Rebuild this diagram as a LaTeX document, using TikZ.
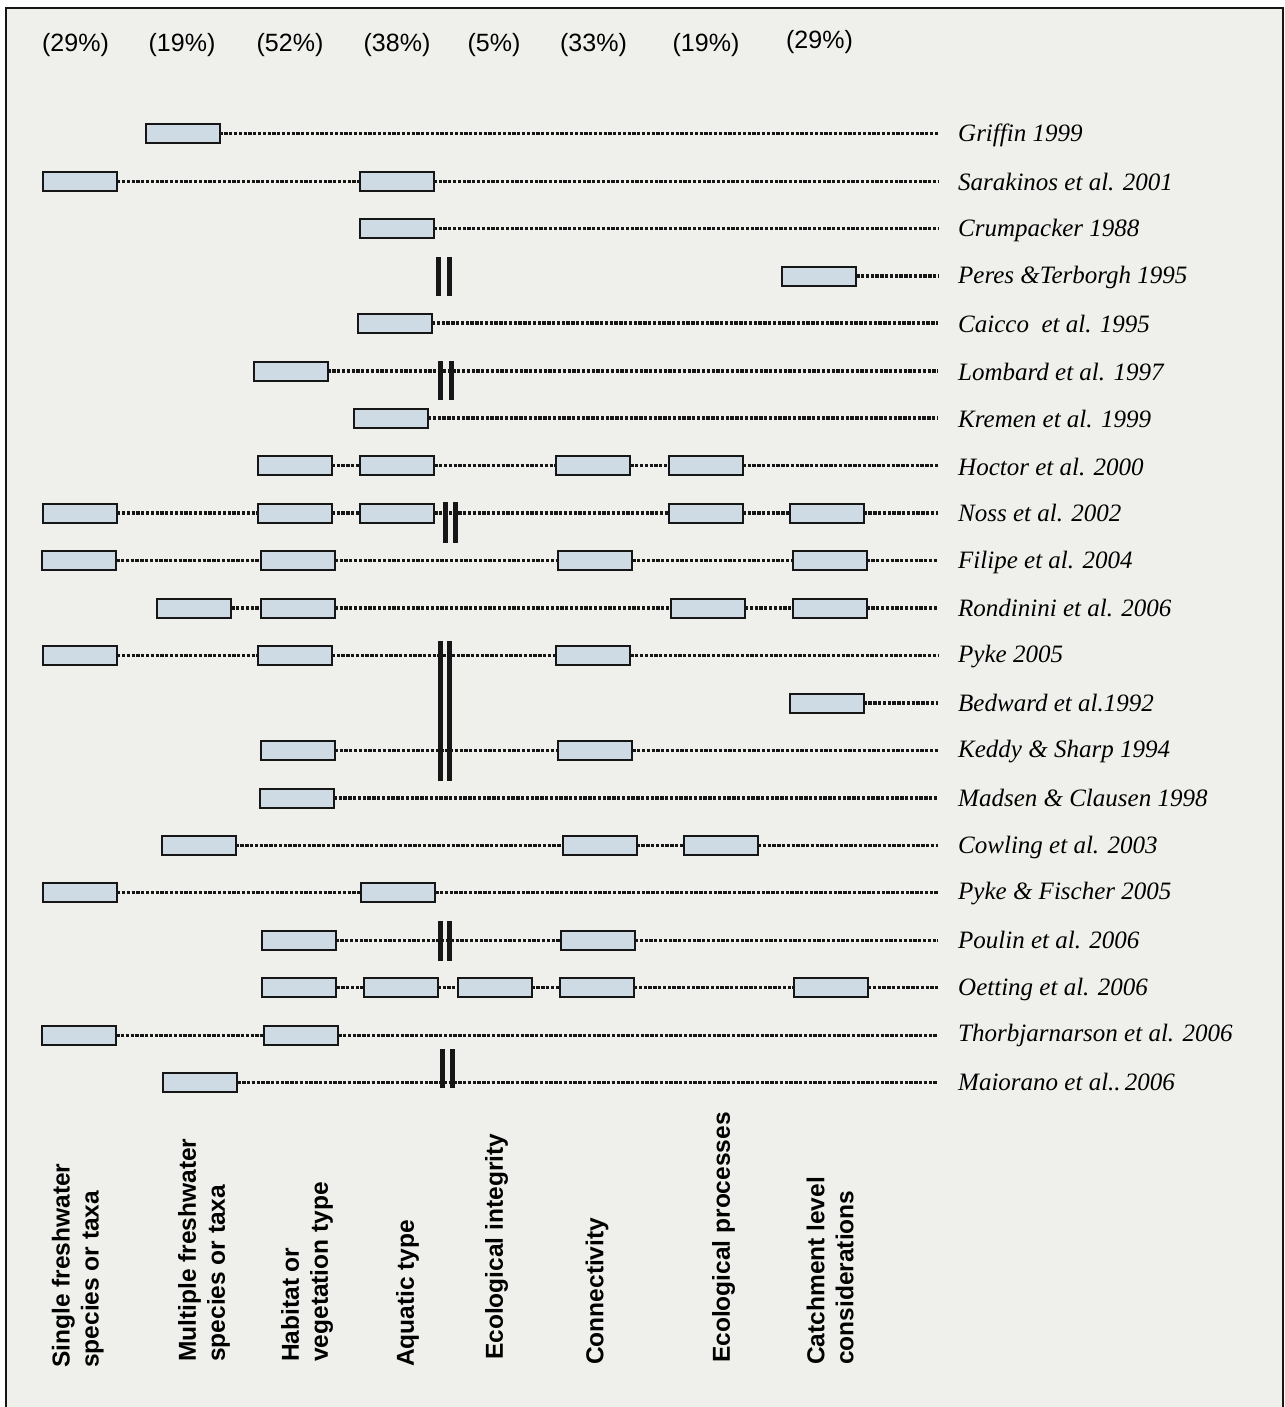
\documentclass[tikz,border=0pt]{standalone}
\usepackage{fontspec}
\newfontfamily\serifit{Liberation Serif}
\newfontfamily\sansf{Liberation Sans}
\definecolor{bg}{RGB}{239,239,235}
\definecolor{boxfill}{RGB}{207,219,228}
\definecolor{ink}{RGB}{22,22,22}
\begin{document}
\begin{tikzpicture}[x=1pt,y=-1pt,
  bx/.style={draw=ink,line width=2pt,fill=boxfill,minimum width=74pt,minimum height=19pt,inner sep=0pt,outer sep=0pt},
  dl/.style={draw=ink,line width=3.1pt,dash pattern=on 3.3pt off 1.5pt},
  barfill/.style={fill=ink},
  pct/.style={font=\sansf\fontsize{25}{30}\selectfont,inner sep=0pt},
  lab/.style={font=\serifit\itshape\fontsize{25}{30}\selectfont,anchor=base west,inner sep=0pt},
  cat/.style={font=\sansf\bfseries\fontsize{24.5}{29}\selectfont,rotate=90,anchor=north west,align=left,inner sep=0pt}]
\useasboundingbox (0,0) rectangle (1284,1407);
\clip (0,0) rectangle (1284,1407);
\fill[white] (0,0) rectangle (1284,1407);
\draw[draw=ink,line width=2.5pt,fill=bg] (6,8) rectangle (1283,1430);

% percentages
\node[pct] (p1) at (75.5,45) {(29\%)};
\node[pct] (p2) at (182,45) {(19\%)};
\node[pct] (p3) at (290,45) {(52\%)};
\node[pct] (p4) at (397,45) {(38\%)};
\node[pct] (p5) at (494,45) {(5\%)};
\node[pct] (p6) at (593.5,45) {(33\%)};
\node[pct] (p7) at (706,45) {(19\%)};
\node[pct] (p8) at (819.5,42.5) {(29\%)};

% row 1 Griffin
\node[bx] (a1) at (182.5,133.5) {};
\coordinate (e1) at (938,133.5);
\draw[dl] (a1) -- (e1);
\node[lab] (l1) at (958,142) {Griffin 1999};

% row 2 Sarakinos
\node[bx] (a2) at (80.1,181.5) {};
\node[bx] (b2) at (396.7,181.5) {};
\coordinate (e2) at (938,181.5);
\draw[dl] (a2) -- (b2);
\draw[dl] (b2) -- (e2);
\node[lab] (l2) at (958,190) {Sarakinos et al. 2001};

% row 3 Crumpacker
\node[bx] (a3) at (396.7,228.5) {};
\coordinate (e3) at (938,228.5);
\draw[dl] (a3) -- (e3);
\node[lab] (l3) at (958,236.5) {Crumpacker 1988};

% row 4 Peres
\node[bx] (a4) at (819.2,276) {};
\coordinate (e4) at (938,276);
\draw[dl] (a4) -- (e4);
\fill[barfill] (435.5,257) rectangle (440.5,296);
\fill[barfill] (446.5,257) rectangle (451.5,296);
\node[lab] (l4) at (958,283) {Peres \&Terborgh 1995};

% row 5 Caicco
\node[bx] (a5) at (395,323) {};
\coordinate (e5) at (938,323);
\draw[dl] (a5) -- (e5);
\node[lab] (l5) at (958,332) {Caicco\ \ et al. 1995};

% row 6 Lombard
\node[bx] (a6) at (290.5,371) {};
\coordinate (e6) at (938,371);
\draw[dl] (a6) -- (e6);
\fill[barfill] (437.5,361) rectangle (442.5,400);
\fill[barfill] (448.5,361) rectangle (453.5,400);
\node[lab] (l6) at (958,380) {Lombard et al. 1997};

% row 7 Kremen
\node[bx] (a7) at (391,418) {};
\coordinate (e7) at (938,418);
\draw[dl] (a7) -- (e7);
\node[lab] (l7) at (958,427) {Kremen et al. 1999};

% row 8 Hoctor
\node[bx] (a8) at (294.8,465.5) {};
\node[bx] (b8) at (397.3,465.5) {};
\node[bx] (c8) at (593.3,465.5) {};
\node[bx] (d8) at (705.8,465.5) {};
\coordinate (e8) at (938,465.5);
\draw[dl] (a8) -- (b8);
\draw[dl] (b8) -- (c8);
\draw[dl] (c8) -- (d8);
\draw[dl] (d8) -- (e8);
\node[lab] (l8) at (958,475) {Hoctor et al. 2000};

% row 9 Noss
\node[bx] (a9) at (80.1,513) {};
\node[bx] (b9) at (294.8,513) {};
\node[bx] (c9) at (397.3,513) {};
\node[bx] (d9) at (705.8,513) {};
\node[bx] (f9) at (826.6,513) {};
\coordinate (e9) at (938,513);
\draw[dl] (a9) -- (b9);
\draw[dl] (b9) -- (c9);
\draw[dl] (c9) -- (d9);
\draw[dl] (d9) -- (f9);
\draw[dl] (f9) -- (e9);
\fill[barfill] (442.5,502) rectangle (447.5,543);
\fill[barfill] (452.5,502) rectangle (457.5,543);
\node[lab] (l9) at (958,521.5) {Noss et al. 2002};

% row 10 Filipe
\node[bx] (a10) at (79.2,560.5) {};
\node[bx] (b10) at (297.7,560.5) {};
\node[bx] (c10) at (595.3,560.5) {};
\node[bx] (d10) at (829.5,560.5) {};
\coordinate (e10) at (938,560.5);
\draw[dl] (a10) -- (b10);
\draw[dl] (b10) -- (c10);
\draw[dl] (c10) -- (d10);
\draw[dl] (d10) -- (e10);
\node[lab] (l10) at (958,568) {Filipe et al. 2004};

% row 11 Rondinini
\node[bx] (a11) at (194.3,608) {};
\node[bx] (b11) at (297.7,608) {};
\node[bx] (c11) at (707.9,608) {};
\node[bx] (d11) at (829.5,608) {};
\coordinate (e11) at (938,608);
\draw[dl] (a11) -- (b11);
\draw[dl] (b11) -- (c11);
\draw[dl] (c11) -- (d11);
\draw[dl] (d11) -- (e11);
\node[lab] (l11) at (958,616.5) {Rondinini et al. 2006};

% row 12 Pyke
\node[bx] (a12) at (80.1,655.5) {};
\node[bx] (b12) at (294.8,655.5) {};
\node[bx] (c12) at (593.3,655.5) {};
\coordinate (e12) at (938,655.5);
\draw[dl] (a12) -- (b12);
\draw[dl] (b12) -- (c12);
\draw[dl] (c12) -- (e12);
\node[lab] (l12) at (958,662.5) {Pyke 2005};

% row 13 Bedward
\node[bx] (a13) at (826.6,703) {};
\coordinate (e13) at (938,703);
\draw[dl] (a13) -- (e13);
\node[lab] (l13) at (958,711.5) {Bedward et al.1992};

% row 14 Keddy
\node[bx] (a14) at (297.7,750.5) {};
\node[bx] (b14) at (595.3,750.5) {};
\coordinate (e14) at (938,750.5);
\draw[dl] (a14) -- (b14);
\draw[dl] (b14) -- (e14);
\node[lab] (l14) at (958,757.5) {Keddy \& Sharp 1994};

% long bar Pyke-Keddy
\fill[barfill] (437.5,641) rectangle (442.5,781);
\fill[barfill] (447,641) rectangle (452,781);

% row 15 Madsen
\node[bx] (a15) at (296.8,798) {};
\coordinate (e15) at (938,798);
\draw[dl] (a15) -- (e15);
\node[lab] (l15) at (958,806.5) {Madsen \& Clausen 1998};

% row 16 Cowling
\node[bx] (a16) at (198.6,845.5) {};
\node[bx] (b16) at (599.6,845.5) {};
\node[bx] (c16) at (721,845.5) {};
\coordinate (e16) at (938,845.5);
\draw[dl] (a16) -- (b16);
\draw[dl] (b16) -- (c16);
\draw[dl] (c16) -- (e16);
\node[lab] (l16) at (958,853.5) {Cowling et al. 2003};

% row 17 Pyke & Fischer
\node[bx] (a17) at (80.1,892.5) {};
\node[bx] (b17) at (398.2,892.5) {};
\coordinate (e17) at (938,892.5);
\draw[dl] (a17) -- (b17);
\draw[dl] (b17) -- (e17);
\node[lab] (l17) at (958,899.5) {Pyke \& Fischer 2005};

% row 18 Poulin
\node[bx] (a18) at (298.5,940.5) {};
\node[bx] (b18) at (597.9,940.5) {};
\coordinate (e18) at (938,940.5);
\draw[dl] (a18) -- (b18);
\draw[dl] (b18) -- (e18);
\fill[barfill] (437.5,921) rectangle (442.5,961);
\fill[barfill] (447,921) rectangle (452,961);
\node[lab] (l18) at (958,948.5) {Poulin et al. 2006};

% row 19 Oetting
\node[bx] (a19) at (299.4,987.5) {};
\node[bx] (b19) at (400.7,987.5) {};
\node[bx] (c19) at (494.6,987.5) {};
\node[bx] (d19) at (597,987.5) {};
\node[bx] (f19) at (831,987.5) {};
\coordinate (e19) at (938,987.5);
\draw[dl] (a19) -- (b19);
\draw[dl] (b19) -- (c19);
\draw[dl] (c19) -- (d19);
\draw[dl] (d19) -- (f19);
\draw[dl] (f19) -- (e19);
\node[lab] (l19) at (958,995) {Oetting et al. 2006};

% row 20 Thorbjarnarson
\node[bx] (a20) at (79.2,1035.5) {};
\node[bx] (b20) at (301.2,1035.5) {};
\coordinate (e20) at (938,1035.5);
\draw[dl] (a20) -- (b20);
\draw[dl] (b20) -- (e20);
\node[lab] (l20) at (958,1041.5) {Thorbjarnarson et al. 2006};

% row 21 Maiorano
\node[bx] (a21) at (200.4,1082.5) {};
\coordinate (e21) at (938,1082.5);
\draw[dl] (a21) -- (e21);
\fill[barfill] (439.5,1049) rectangle (444.5,1088);
\fill[barfill] (449.5,1049) rectangle (454.5,1088);
\node[lab] (l21) at (958,1090.5) {Maiorano et al..\,2006};

% category labels
\node[cat] (k1) at (51.7,1368) {Single freshwater\\species or taxa};
\node[cat] (k2) at (178,1362) {Multiple freshwater\\species or taxa};
\node[cat] (k3) at (281,1362) {Habitat or\\vegetation type};
\node[cat] (k4) at (396,1367) {Aquatic type};
\node[cat] (k5) at (485,1360) {Ecological integrity};
\node[cat] (k6) at (585.5,1365) {Connectivity};
\node[cat] (k7) at (712,1363) {Ecological processes};
\node[cat] (k8) at (806.5,1365) {Catchment level\\considerations};
\end{tikzpicture}
\end{document}
